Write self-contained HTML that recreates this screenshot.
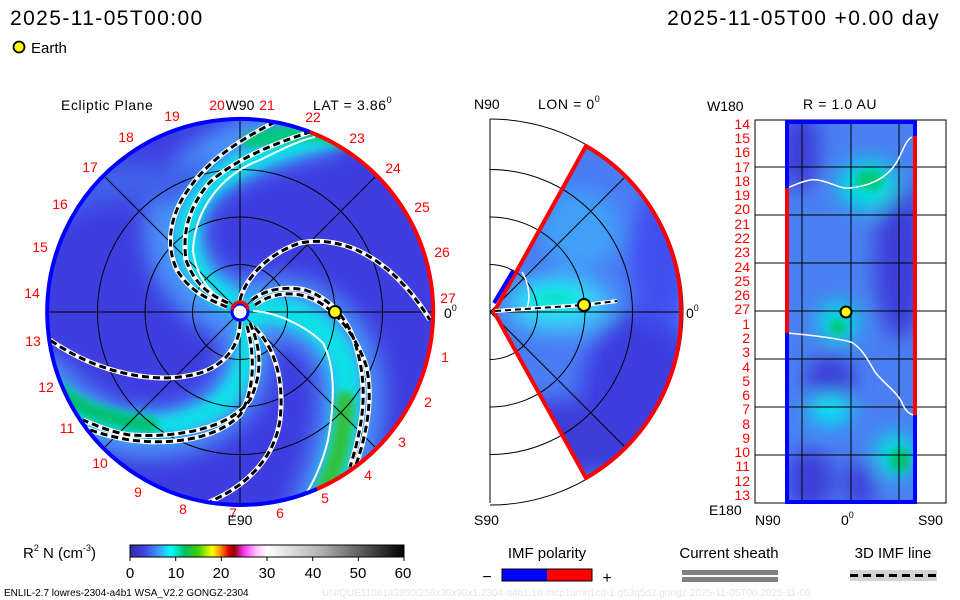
<!DOCTYPE html>
<html><head><meta charset="utf-8"><style>
html,body{margin:0;padding:0;background:#fff;}
body{width:960px;height:600px;overflow:hidden;position:relative;font-family:"Liberation Sans",sans-serif;}
svg{position:absolute;left:0;top:0;}
</style></head><body>
<svg width="960" height="600" viewBox="0 0 960 600" font-family="Liberation Sans, sans-serif">
<defs>
<filter id="b6" x="-50%" y="-50%" width="200%" height="200%"><feGaussianBlur stdDeviation="6"/></filter>
<filter id="b4" x="-50%" y="-50%" width="200%" height="200%"><feGaussianBlur stdDeviation="4"/></filter>
<filter id="b10" x="-50%" y="-50%" width="200%" height="200%"><feGaussianBlur stdDeviation="10"/></filter>
<clipPath id="cL"><circle cx="240" cy="312" r="193"/></clipPath>
<clipPath id="cM"><path d="M492,312 L585,147 A190,190 0 0 1 585,477 Z"/></clipPath>
<clipPath id="cR"><rect x="787" y="122" width="128" height="380"/></clipPath>
<linearGradient id="cb" x1="0" x2="1" y1="0" y2="0">
<stop offset="0" stop-color="#3030a0"/><stop offset="0.05" stop-color="#4040e0"/><stop offset="0.1" stop-color="#4090ff"/>
<stop offset="0.15" stop-color="#00ffff"/><stop offset="0.2" stop-color="#00c060"/><stop offset="0.25" stop-color="#40d000"/>
<stop offset="0.3" stop-color="#ffff00"/><stop offset="0.33" stop-color="#ff9000"/><stop offset="0.36" stop-color="#e00000"/>
<stop offset="0.38" stop-color="#900000"/><stop offset="0.42" stop-color="#ff40ff"/><stop offset="0.46" stop-color="#ffc0ff"/>
<stop offset="0.5" stop-color="#ffffff"/><stop offset="0.7" stop-color="#b0b0b0"/><stop offset="1" stop-color="#000000"/>
</linearGradient>
</defs>

<!-- header -->
<text x="10" y="25" font-size="21" letter-spacing="1.4">2025-11-05T00:00</text>
<text x="940" y="25" font-size="21" letter-spacing="1.4" text-anchor="end">2025-11-05T00 +0.00 day</text>
<circle cx="19" cy="47" r="5.5" fill="#ffff00" stroke="#000" stroke-width="1.8"/>
<text x="31" y="53" font-size="15">Earth</text>

<!-- LEFT PANEL -->
<g clip-path="url(#cL)">
<circle cx="240" cy="312" r="193" fill="#3e3ee0"/>
<g filter="url(#b10)" fill="none" stroke-linecap="round">
<path d="M227,307 C195,290 170,260 175,220 C185,175 230,145 320,125" stroke="#4a90f8" stroke-width="60"/>
<path d="M250,311 C290,300 330,320 345,360 C360,400 345,460 325,505" stroke="#4a90f8" stroke-width="65"/>
<path d="M245,325 C255,380 230,420 170,432 C120,440 80,420 45,380" stroke="#4a90f8" stroke-width="50"/>
<path d="M60,200 C120,160 160,200 200,180" stroke="#4060ea" stroke-width="40"/>
</g>
<g filter="url(#b6)" fill="none" stroke-linecap="round">
<path d="M230,300 C200,285 185,260 188,225 C195,185 240,155 330,135" stroke="#10e0e8" stroke-width="24"/>
<path d="M255,311 C295,305 335,330 345,370 C352,410 340,460 325,500" stroke="#10e0e8" stroke-width="28"/>
<path d="M248,330 C250,380 225,415 170,425 C120,432 80,415 45,390" stroke="#10e0e8" stroke-width="22"/>
</g>
<g filter="url(#b4)" fill="none" stroke-linecap="round">
<path d="M250,140 C290,132 320,130 345,140" stroke="#00c878" stroke-width="16"/>
<path d="M345,400 C345,440 335,470 320,500" stroke="#30c040" stroke-width="18"/>
<path d="M150,425 C110,420 80,410 50,385" stroke="#00c070" stroke-width="16"/>
</g>
<!-- grid -->
<g fill="none" stroke="#000" stroke-width="1">
<circle cx="240" cy="312" r="47.5"/><circle cx="240" cy="312" r="95"/><circle cx="240" cy="312" r="142.5"/>
<line x1="45" y1="312" x2="435" y2="312"/><line x1="240" y1="117" x2="240" y2="507"/>
<line x1="104" y1="176" x2="376" y2="448"/><line x1="104" y1="448" x2="376" y2="176"/>
</g>
<!-- white HCS lines -->
<g fill="none" stroke="#fff" stroke-width="2">
<path d="M227,303 C205,290 195,270 193,250 C195,210 220,175 260,160 C280,150 300,140 315,137"/>
<path d="M253,311 C275,312 305,325 323,343 C335,365 335,400 328,440 C322,465 312,485 305,495"/>
</g>
<!-- dashed spirals -->
<g fill="none" stroke="#fff" stroke-width="5">
<path id="s1" d="M227,307 C210,300 190,292 177,270 C165,245 170,215 188,190 C205,165 230,145 273,123"/>
<path id="s2" d="M228,303 C210,295 195,285 186,260 C182,230 190,205 210,182 C235,160 270,145 310,132"/>
<path id="s3" d="M240,300 C245,280 265,255 300,243 C340,235 390,255 430,320"/>
<path id="s4" d="M252,300 C262,292 280,285 305,290 C330,298 350,320 357,350 C367,385 365,420 350,467"/>
<path id="s5" d="M255,305 C275,290 300,292 315,300 C338,312 355,335 366,365 C373,395 368,430 356,465"/>
<path id="s6" d="M240,322 C240,345 225,365 200,373 C160,385 100,375 50,340"/>
<path id="s7" d="M250,323 C262,350 262,375 250,400 C230,428 180,438 130,435 C110,432 95,425 83,420"/>
<path id="s8" d="M255,328 C272,345 285,375 280,420 C275,455 250,485 207,503"/>
<path id="s9" d="M247,326 C255,355 255,390 240,415 C215,440 170,445 130,440 C112,437 95,432 85,428"/>
</g>
<g fill="none" stroke="#000" stroke-width="3" stroke-dasharray="7,4">
<use href="#s1"/><use href="#s2"/><use href="#s3"/><use href="#s4"/><use href="#s5"/><use href="#s6"/><use href="#s7"/><use href="#s8"/><use href="#s9"/>
</g>
</g>
<!-- outer rim -->
<path d="M310,132 A193,193 0 1 0 317,489" fill="none" stroke="#0000ff" stroke-width="4"/>
<path d="M310,132 A193,193 0 0 1 317,489" fill="none" stroke="#ff0000" stroke-width="4"/>
<!-- sun -->
<circle cx="240" cy="312" r="8" fill="#fff" stroke="#0000ff" stroke-width="3"/>
<path d="M232,310 A8,8 0 0 1 248,310" fill="none" stroke="#ff0000" stroke-width="3"/>
<circle cx="335" cy="312" r="6" fill="#ffff00" stroke="#000" stroke-width="2"/>
<!-- labels -->
<g font-size="14" fill="#ff0000" text-anchor="middle">
<text x="172" y="121">19</text><text x="217" y="110">20</text><text x="267" y="110">21</text><text x="313" y="122">22</text>
<text x="357" y="143">23</text><text x="393" y="173">24</text><text x="422" y="212">25</text><text x="442" y="257">26</text>
<text x="448" y="303">27</text><text x="445" y="362">1</text><text x="428" y="407">2</text><text x="402" y="447">3</text>
<text x="368" y="480">4</text><text x="325" y="503">5</text><text x="280" y="518">6</text><text x="233" y="518">7</text>
<text x="183" y="514">8</text><text x="138" y="497">9</text><text x="100" y="468">10</text><text x="67" y="433">11</text>
<text x="46" y="392">12</text><text x="33" y="346">13</text><text x="32" y="298">14</text><text x="40" y="252">15</text>
<text x="60" y="209">16</text><text x="90" y="172">17</text><text x="126" y="142">18</text>
</g>
<g font-size="14" fill="#000">
<text x="61" y="110" letter-spacing="0.6">Ecliptic Plane</text>
<text x="240" y="110" text-anchor="middle">W90</text>
<text x="313" y="110" letter-spacing="0.6">LAT = 3.86<tspan font-size="9" dy="-7">0</tspan></text>
<text x="444" y="318">0<tspan font-size="9" dy="-7">0</tspan></text>
<text x="240" y="525" text-anchor="middle">E90</text>
</g>

<!-- MIDDLE PANEL -->
<g clip-path="url(#cM)">
<rect x="488" y="140" width="200" height="345" fill="#4a7cf4"/>
<g filter="url(#b10)">
<ellipse cx="640" cy="400" rx="60" ry="90" fill="#3c3ce0"/>
<ellipse cx="560" cy="440" rx="60" ry="40" fill="#3c3cd8"/>
<ellipse cx="660" cy="260" rx="30" ry="70" fill="#4050f0"/>
<ellipse cx="580" cy="230" rx="40" ry="40" fill="#40a0f8"/>
<ellipse cx="560" cy="305" rx="55" ry="30" fill="#40c0f8"/>
<ellipse cx="555" cy="300" rx="35" ry="16" fill="#00f0f0"/>
</g>
<ellipse cx="555" cy="298" rx="18" ry="8" fill="#10e0d0" filter="url(#b4)"/>
</g>
<g fill="none" stroke="#000" stroke-width="1">
<line x1="490" y1="119" x2="490" y2="503"/>
<path d="M490,264.5 A47.5,47.5 0 0 1 490,359.5"/>
<path d="M490,217 A95,95 0 0 1 490,407"/>
<path d="M490,169.5 A142.5,142.5 0 0 1 490,454.5"/>
<path d="M490,119 A193,193 0 0 1 490,505"/>
<line x1="490" y1="312" x2="681" y2="312"/>
<line x1="490" y1="312" x2="624" y2="178"/><line x1="490" y1="312" x2="624" y2="446"/>
</g>
<path d="M494,312 L586,146 A190,190 0 0 1 681,312 A190,190 0 0 1 586,478 Z" fill="none" stroke="#ff0000" stroke-width="4" stroke-linejoin="round"/>
<line x1="494" y1="303" x2="513" y2="271" stroke="#0000ff" stroke-width="4"/>
<path d="M522,272 C530,285 530,300 527,308 L500,312" fill="none" stroke="#fff" stroke-width="1.5"/>
<path d="M495,311 L585,305 L617,301" fill="none" stroke="#fff" stroke-width="4"/>
<path d="M495,311 L585,305 L617,301" fill="none" stroke="#000" stroke-width="2" stroke-dasharray="6,4"/>
<circle cx="584" cy="305" r="6" fill="#ffff00" stroke="#000" stroke-width="2"/>
<g font-size="14" fill="#000">
<text x="474" y="109">N90</text><text x="538" y="109" letter-spacing="0.6">LON = 0<tspan font-size="9" dy="-7">0</tspan></text>
<text x="686" y="318">0<tspan font-size="9" dy="-7">0</tspan></text>
<text x="474" y="525">S90</text>
</g>

<!-- RIGHT PANEL -->
<rect x="755" y="120" width="191" height="383" fill="#fff" stroke="#000" stroke-width="1"/>
<g clip-path="url(#cR)">
<rect x="787" y="122" width="128" height="380" fill="#4a80f2"/>
<g filter="url(#b10)">
<ellipse cx="800" cy="150" rx="20" ry="40" fill="#3c3cd8"/>
<ellipse cx="900" cy="260" rx="25" ry="80" fill="#3c3cd8"/>
<ellipse cx="830" cy="380" rx="25" ry="25" fill="#3c3cd8"/>
<ellipse cx="810" cy="480" rx="25" ry="30" fill="#3c3cd8"/>
<ellipse cx="860" cy="485" rx="15" ry="25" fill="#3c3cd8"/>
<ellipse cx="868" cy="185" rx="30" ry="25" fill="#00e0e0"/>
<ellipse cx="838" cy="322" rx="20" ry="20" fill="#00e0e0"/>
<ellipse cx="830" cy="410" rx="22" ry="15" fill="#00e8f0"/>
<ellipse cx="895" cy="455" rx="20" ry="22" fill="#00e0e0"/>
</g>
<g filter="url(#b4)">
<ellipse cx="870" cy="180" rx="14" ry="10" fill="#00c878"/>
<ellipse cx="838" cy="327" rx="8" ry="8" fill="#00c878"/>
<ellipse cx="900" cy="460" rx="10" ry="12" fill="#00c070"/>
</g>
</g>
<g stroke="#000" stroke-width="1">
<line x1="802" y1="120" x2="802" y2="503"/><line x1="851" y1="120" x2="851" y2="503"/><line x1="899" y1="120" x2="899" y2="503"/>
<line x1="755" y1="167" x2="946" y2="167"/><line x1="755" y1="215" x2="946" y2="215"/><line x1="755" y1="263" x2="946" y2="263"/>
<line x1="755" y1="311" x2="946" y2="311"/><line x1="755" y1="359" x2="946" y2="359"/><line x1="755" y1="407" x2="946" y2="407"/>
<line x1="755" y1="455" x2="946" y2="455"/>
</g>
<g fill="none" stroke="#fff" stroke-width="1.5">
<path d="M787,188 C795,185 800,182 810,180 C825,178 840,190 850,188 C870,186 888,178 898,160 C903,150 906,140 912,137"/>
<path d="M787,333 C810,335 835,338 851,342 C862,348 868,360 875,372 C885,385 898,392 903,405 C906,412 910,414 913,415"/>
</g>
<rect x="787" y="122" width="128" height="380" fill="none" stroke="#0000ff" stroke-width="4"/>
<line x1="787" y1="188" x2="787" y2="333" stroke="#ff0000" stroke-width="4"/>
<line x1="915" y1="136" x2="915" y2="415" stroke="#ff0000" stroke-width="4"/>
<circle cx="846" cy="312" r="5.5" fill="#ffff00" stroke="#000" stroke-width="2"/>
<g font-size="14" fill="#ff0000" text-anchor="end">
<text x="750" y="129">14</text><text x="750" y="143">15</text><text x="750" y="157">16</text><text x="750" y="172">17</text>
<text x="750" y="186">18</text><text x="750" y="200">19</text><text x="750" y="214">20</text><text x="750" y="229">21</text>
<text x="750" y="243">22</text><text x="750" y="257">23</text><text x="750" y="272">24</text><text x="750" y="286">25</text>
<text x="750" y="300">26</text><text x="750" y="314">27</text><text x="750" y="329">1</text><text x="750" y="343">2</text>
<text x="750" y="357">3</text><text x="750" y="372">4</text><text x="750" y="386">5</text><text x="750" y="400">6</text>
<text x="750" y="414">7</text><text x="750" y="429">8</text><text x="750" y="443">9</text><text x="750" y="457">10</text>
<text x="750" y="471">11</text><text x="750" y="486">12</text><text x="750" y="500">13</text>
</g>
<g font-size="14" fill="#000">
<text x="707" y="111">W180</text><text x="803" y="109" letter-spacing="0.6">R = 1.0 AU</text>
<text x="709" y="515">E180</text><text x="755" y="525">N90</text>
<text x="841" y="525">0<tspan font-size="9" dy="-7">0</tspan></text>
<text x="918" y="525">S90</text>
</g>

<!-- colorbar -->
<text x="23" y="558" font-size="15">R<tspan font-size="9" dy="-7">2</tspan><tspan dy="7"> N (cm</tspan><tspan font-size="9" dy="-7">-3</tspan><tspan dy="7">)</tspan></text>
<rect x="130" y="545" width="274" height="12" fill="url(#cb)" stroke="#000" stroke-width="1"/>
<g stroke="#000"><line x1="130" y1="557" x2="130" y2="561"/><line x1="175.7" y1="557" x2="175.7" y2="561"/><line x1="221.3" y1="557" x2="221.3" y2="561"/><line x1="267" y1="557" x2="267" y2="561"/><line x1="312.7" y1="557" x2="312.7" y2="561"/><line x1="358.3" y1="557" x2="358.3" y2="561"/><line x1="404" y1="557" x2="404" y2="561"/></g>
<g font-size="15" text-anchor="middle">
<text x="130" y="578">0</text><text x="176" y="578">10</text><text x="221" y="578">20</text><text x="267" y="578">30</text>
<text x="313" y="578">40</text><text x="358" y="578">50</text><text x="403" y="578">60</text>
</g>
<text x="547" y="558" font-size="15" text-anchor="middle">IMF polarity</text>
<text x="487" y="582" font-size="16" text-anchor="middle">−</text>
<text x="607" y="583" font-size="16" text-anchor="middle">+</text>
<rect x="502" y="569" width="45" height="12" fill="#0000ff"/><rect x="547" y="569" width="45" height="12" fill="#ff0000"/>
<rect x="502" y="569" width="90" height="12" fill="none" stroke="#000"/>
<text x="729" y="558" font-size="15" text-anchor="middle">Current sheath</text>
<rect x="682" y="570" width="96" height="5" fill="#808080"/><rect x="682" y="577" width="96" height="5" fill="#808080"/>
<text x="893" y="558" font-size="15" text-anchor="middle">3D IMF line</text>
<rect x="850" y="570" width="87" height="11" fill="#d3d3d3"/>
<line x1="850" y1="575.5" x2="937" y2="575.5" stroke="#000" stroke-width="3" stroke-dasharray="8,5"/>

<text x="4" y="596" font-size="10">ENLIL-2.7 lowres-2304-a4b1 WSA_V2.2 GONGZ-2304</text>
<text x="322" y="596" font-size="10" fill="#e6e6e6">UNIQUE1106143950/256x30x90x1.2304-a4b1.16-mcp1umn1cd-1.g53q5d2.gongz-2025-11-05T00   2025-11-06</text>
</svg>
</body></html>
